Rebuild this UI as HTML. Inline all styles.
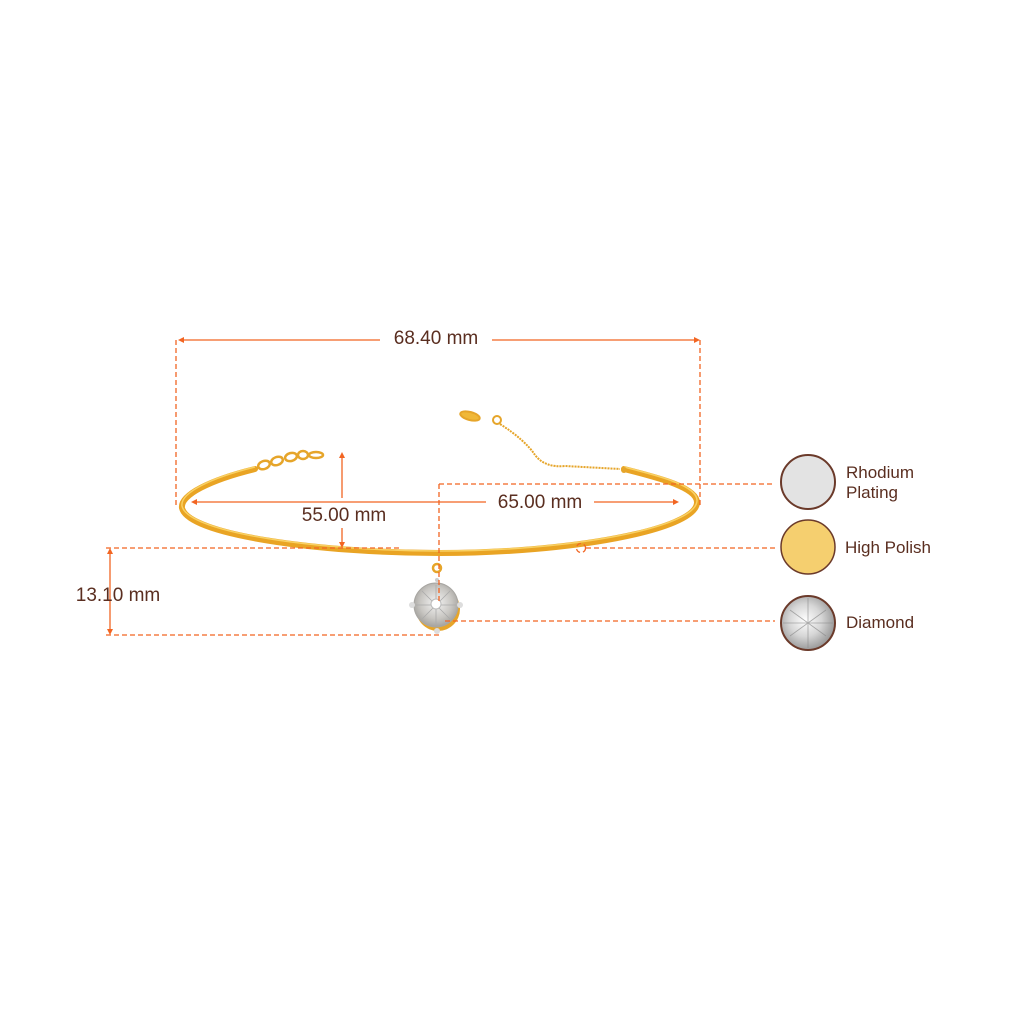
<!DOCTYPE html>
<html><head><meta charset="utf-8"><style>
html,body{margin:0;padding:0;background:#fff;}
svg{display:block}
text{font-family:"Liberation Sans",sans-serif;fill:#5a2e20}
</style></head><body>
<svg width="1024" height="1024" viewBox="0 0 1024 1024" xmlns="http://www.w3.org/2000/svg">
<defs>
<radialGradient id="pd" cx="0.5" cy="0.45" r="0.6">
<stop offset="0" stop-color="#f4f4f4"/><stop offset="0.6" stop-color="#c8c6c2"/><stop offset="1" stop-color="#9a9894"/>
</radialGradient>
<radialGradient id="dm" cx="0.45" cy="0.45" r="0.6">
<stop offset="0" stop-color="#ffffff"/><stop offset="0.5" stop-color="#d6d6d6"/><stop offset="1" stop-color="#8e8e8e"/>
</radialGradient>
</defs>
<!-- bangle -->
<path d="M255 469 C210 480 180 495 182 508 C188 535 320 553 440 553 C570 553 695 530 697 503 C698 488 660 478 624 469" fill="none" stroke="#e9a424" stroke-width="6" stroke-linecap="round"/>
<path d="M255 467 C210 478 180 493 182 506 C188 533 320 551 440 551 C570 551 695 528 697 501 C698 486 660 476 624 467" fill="none" stroke="#fbd66a" stroke-width="1.5" opacity="0.9"/>
<!-- left chain -->
<g fill="none" stroke="#e6a52a" stroke-width="2.5">
<ellipse cx="264" cy="465" rx="6" ry="4" transform="rotate(-20 264 465)"/>
<ellipse cx="277" cy="461" rx="6" ry="4" transform="rotate(-20 277 461)"/>
<ellipse cx="291" cy="457" rx="6" ry="4" transform="rotate(-15 291 457)"/>
<ellipse cx="303" cy="455" rx="5" ry="4"/>
<ellipse cx="316" cy="455" rx="7" ry="3"/>
</g>
<!-- right chain -->
<g fill="none" stroke="#e6a52a" stroke-width="2">
<ellipse cx="470" cy="416" rx="10" ry="4" fill="#f0b838" transform="rotate(15 470 416)"/>
<circle cx="497" cy="420" r="4"/>
<path d="M500 424 Q525 440 535 455 Q545 468 565 466 L620 469" stroke-dasharray="2,1"/>
</g>
<circle cx="624" cy="470" r="3" fill="#e6a52a"/>
<!-- pendant -->
<circle cx="437" cy="568" r="4" fill="none" stroke="#e6a52a" stroke-width="2.5"/>
<circle cx="437" cy="580" r="2" fill="#ccc"/>
<ellipse cx="438" cy="609" rx="22" ry="22" fill="#e6a52a"/>
<circle cx="436" cy="605" r="22" fill="url(#pd)" stroke="#a8a6a2" stroke-width="1"/>
<g stroke="#aaa" stroke-width="0.8">
<line x1="436" y1="585" x2="436" y2="625"/><line x1="416" y1="605" x2="456" y2="605"/>
<line x1="422" y1="591" x2="450" y2="619"/><line x1="450" y1="591" x2="422" y2="619"/>
</g>
<circle cx="436" cy="604" r="5" fill="#fff" stroke="#bbb"/>
<circle cx="412" cy="605" r="3" fill="#ddd"/><circle cx="460" cy="605" r="3" fill="#ddd"/>
<circle cx="437" cy="631" r="3" fill="#ddd"/>
<!-- dimension lines -->
<g stroke="#f26522" stroke-width="1.3" fill="none">
<line x1="180" y1="340" x2="380" y2="340"/><line x1="492" y1="340" x2="697" y2="340"/>
<line x1="194" y1="502" x2="486" y2="502"/><line x1="594" y1="502" x2="676" y2="502"/>
<line x1="342" y1="455" x2="342" y2="498"/><line x1="342" y1="528" x2="342" y2="545"/>
<line x1="110" y1="551" x2="110" y2="632"/>
</g>
<g stroke="#f26522" stroke-width="1.3" fill="none" stroke-dasharray="5,3">
<line x1="176" y1="340" x2="176" y2="508"/><line x1="700" y1="340" x2="700" y2="508"/>
<line x1="439" y1="484" x2="775" y2="484"/><line x1="439" y1="484" x2="439" y2="604"/>
<line x1="106" y1="548" x2="400" y2="548"/>
<line x1="586" y1="548" x2="775" y2="548"/>
<circle cx="581" cy="548" r="4.5"/>
<line x1="106" y1="635" x2="440" y2="635"/>
<line x1="445" y1="621" x2="775" y2="621"/>
</g>
<g fill="#f26522">
<path d="M178 340 l6 -3 v6z"/><path d="M700 340 l-6 -3 v6z"/>
<path d="M191 502 l6 -3 v6z"/><path d="M679 502 l-6 -3 v6z"/>
<path d="M342 452 l-3 6 h6z"/><path d="M342 548 l-3 -6 h6z"/>
<path d="M110 548 l-3 6 h6z"/><path d="M110 635 l-3 -6 h6z"/>
</g>
<text x="436" y="344" font-size="19" text-anchor="middle">68.40 mm</text>
<text x="344" y="521" font-size="19" text-anchor="middle">55.00 mm</text>
<text x="540" y="508" font-size="19" text-anchor="middle">65.00 mm</text>
<text x="118" y="601" font-size="19" text-anchor="middle">13.10 mm</text>
<!-- swatches -->
<circle cx="808" cy="482" r="27" fill="#e3e3e3" stroke="#6b3a2a" stroke-width="2"/>
<circle cx="808" cy="547" r="27" fill="#f5cf6f" stroke="#6b3a2a" stroke-width="1.5"/>
<circle cx="808" cy="623" r="27" fill="url(#dm)" stroke="#6b3a2a" stroke-width="2"/>
<g stroke="#8a8a8a" stroke-width="0.8" opacity="0.7">
<line x1="790" y1="610" x2="826" y2="636"/><line x1="826" y1="610" x2="790" y2="636"/>
<line x1="808" y1="598" x2="808" y2="648"/><line x1="783" y1="623" x2="833" y2="623"/>
</g>
<text x="846" y="478" font-size="17">Rhodium</text>
<text x="846" y="498" font-size="17">Plating</text>
<text x="845" y="553" font-size="17">High Polish</text>
<text x="846" y="628" font-size="17">Diamond</text>
</svg>
</body></html>
